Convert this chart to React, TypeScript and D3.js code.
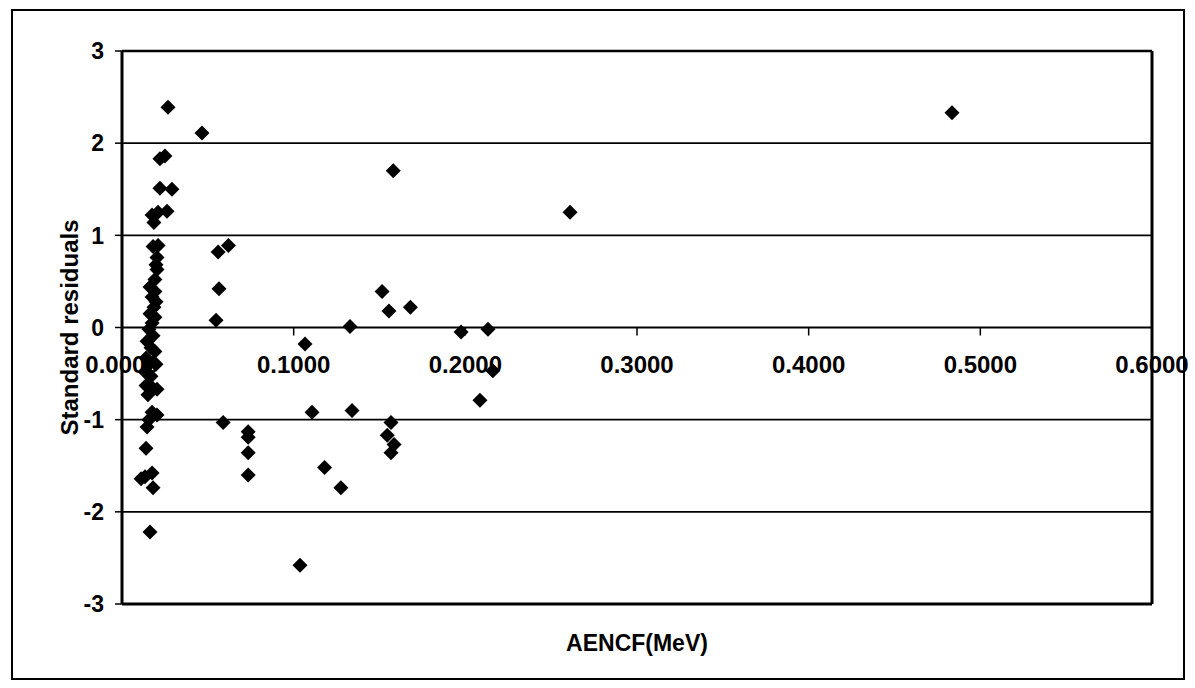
import React from "react";
import * as d3 from "d3";

const aencf: number[] = [
  0.0268, 0.0221, 0.025, 0.0221, 0.0291, 0.0175, 0.021, 0.0262, 0.0186, 0.0181,
  0.021, 0.0204, 0.0198, 0.0204, 0.0192, 0.0163, 0.0192, 0.0175, 0.0198, 0.0186,
  0.0163, 0.0192, 0.0175, 0.0157, 0.0181, 0.0146, 0.0169, 0.0192, 0.014, 0.0163,
  0.0198, 0.0134, 0.0169, 0.014, 0.0175, 0.0204, 0.0151, 0.0175, 0.0204, 0.0157,
  0.0146, 0.014, 0.0111, 0.0134, 0.0175, 0.0181, 0.0163,
  0.0466, 0.158, 0.056, 0.062, 0.0565, 0.0548, 0.1515, 0.1555, 0.168, 0.1328,
  0.1066, 0.1975, 0.2132, 0.216, 0.2085, 0.0589, 0.1107, 0.134, 0.0735, 0.0735,
  0.0735, 0.0735, 0.118, 0.1275, 0.1037, 0.1567, 0.1545, 0.1585, 0.1567, 0.261,
  0.4835,
];
const residuals: number[] = [
  2.39, 1.83, 1.86, 1.51, 1.5, 1.22, 1.25, 1.26, 1.14, 0.88,
  0.89, 0.76, 0.68, 0.63, 0.52, 0.44, 0.39, 0.33, 0.28, 0.22,
  0.15, 0.11, 0.05, -0.02, -0.09, -0.15, -0.22, -0.26, -0.33, -0.39,
  -0.4, -0.48, -0.53, -0.63, -0.65, -0.67, -0.73, -0.92, -0.95, -1.0,
  -1.08, -1.31, -1.64, -1.62, -1.58, -1.74, -2.22,
  2.11, 1.7, 0.82, 0.89, 0.42, 0.08, 0.39, 0.18, 0.22, 0.01,
  -0.18, -0.05, -0.02, -0.47, -0.79, -1.03, -0.92, -0.9, -1.13, -1.19,
  -1.36, -1.6, -1.52, -1.74, -2.58, -1.03, -1.17, -1.27, -1.36, 1.25,
  2.33,
];
const xTicks: number[] = [0, 0.1, 0.2, 0.3, 0.4, 0.5, 0.6];
const yTicks: number[] = [-3, -2, -1, 0, 1, 2, 3];
const xTitle = "AENCF(MeV)";
const yTitle = "Standard residuals";

export default function App() {
  const W = 1195;
  const H = 688;
  const left = 122, right = 1152, top = 51, bottom = 604;
  const x = d3.scaleLinear().domain([0, 0.6]).range([left, right]);
  const y = d3.scaleLinear().domain([-3, 3]).range([bottom, top]);
  const font = "'Liberation Sans', Arial, sans-serif";
  const diamond = (cx: number, cy: number) =>
    `M${cx},${cy - 7.5}L${cx + 7.5},${cy}L${cx},${cy + 7.5}L${cx - 7.5},${cy}Z`;
  const pts = aencf.map((v, i) => [v, residuals[i]]);
  return (
    <svg
      width={W}
      height={H}
      style={{ position: "absolute", left: 0, top: 0, background: "#fff" }}
    >
      <rect x={0} y={0} width={W} height={H} fill="#fff" />
      <rect x={12} y={10} width={1172} height={669} fill="none" stroke="#000" strokeWidth={2} />
      {/* gridlines */}
      {yTicks
        .filter((t) => t !== 0 && t !== 3 && t !== -3)
        .map((t) => (
          <line key={"g" + t} x1={left} x2={right} y1={y(t)} y2={y(t)} stroke="#000" strokeWidth={1.6} />
        ))}
      {/* plot border */}
      <line x1={left} x2={right} y1={top} y2={top} stroke="#000" strokeWidth={2.5} />
      <line x1={left} x2={right} y1={bottom} y2={bottom} stroke="#000" strokeWidth={3} />
      <line x1={right} x2={right} y1={top} y2={bottom} stroke="#000" strokeWidth={3} />
      {/* y axis */}
      <line x1={left} x2={left} y1={top} y2={bottom} stroke="#000" strokeWidth={3} />
      {yTicks.map((t) => (
        <g key={"y" + t}>
          <line x1={left - 7} x2={left} y1={y(t)} y2={y(t)} stroke="#000" strokeWidth={1.5} />
          <text
            x={104}
            y={y(t)}
            dy="0.36em"
            textAnchor="end"
            fontFamily={font}
            fontWeight="bold"
            fontSize={23}
          >
            {t}
          </text>
        </g>
      ))}
      {/* x axis at y=0 */}
      <line x1={left} x2={right} y1={y(0)} y2={y(0)} stroke="#000" strokeWidth={2} />
      {xTicks.map((t) => (
        <g key={"x" + t}>
          <line x1={x(t)} x2={x(t)} y1={y(0)} y2={y(0) + 8} stroke="#000" strokeWidth={1.5} />
          <text
            x={x(t)}
            y={373}
            textAnchor="middle"
            fontFamily={font}
            fontWeight="bold"
            fontSize={24}
          >
            {t.toFixed(4)}
          </text>
        </g>
      ))}
      {/* points */}
      {pts.map((p, i) => (
        <path key={"p" + i} d={diamond(x(p[0]), y(p[1]))} fill="#000" />
      ))}
      <text
        x={(left + right) / 2}
        y={651}
        textAnchor="middle"
        fontFamily={font}
        fontWeight="bold"
        fontSize={23}
      >
        {xTitle}
      </text>
      <text
        transform={`translate(78,${(top + bottom) / 2}) rotate(-90)`}
        textAnchor="middle"
        fontFamily={font}
        fontWeight="bold"
        fontSize={24}
      >
        {yTitle}
      </text>
    </svg>
  );
}
